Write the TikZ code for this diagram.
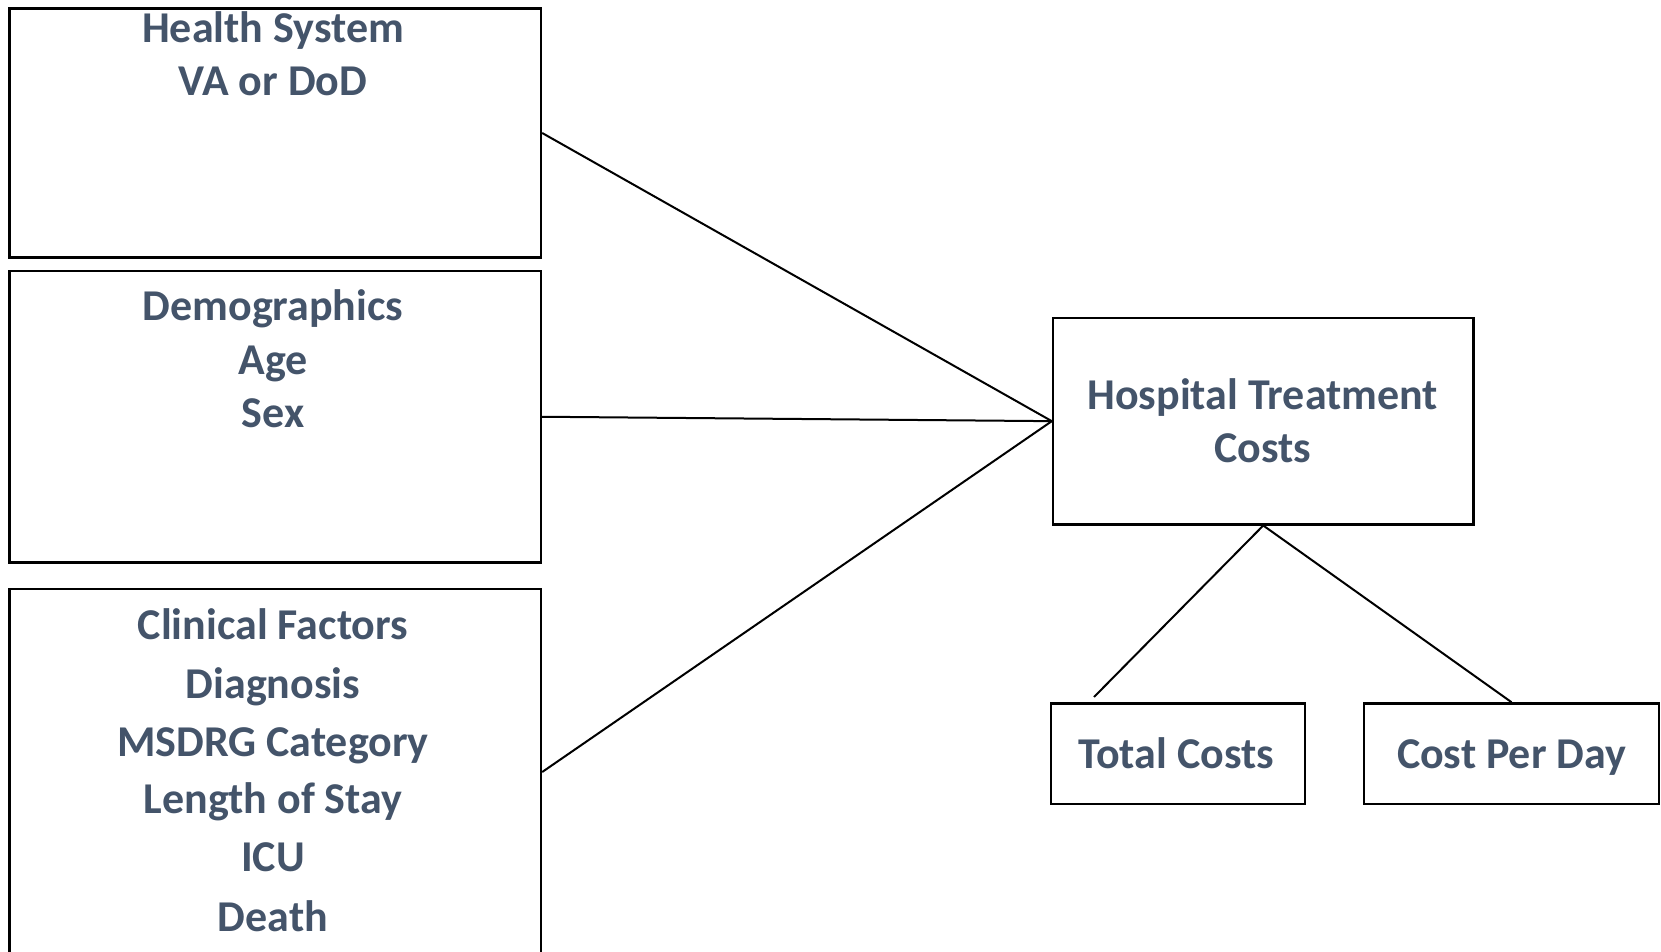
\documentclass[tikz,border=0pt]{standalone}
\usepackage{fontspec}
\setmainfont{Carlito}
\definecolor{txt}{HTML}{44546A}
\begin{document}
\begin{tikzpicture}[x=1pt,y=-1pt,
  box/.style={draw=black, line width=2.4pt, inner sep=0pt},
  lbl/.style={text=txt, font=\fontsize{44}{53}\selectfont\bfseries, inner sep=0pt, anchor=base},
  link/.style={draw=black, line width=2pt}]
\useasboundingbox (0,0) rectangle (1661,951);
\clip (0,0) rectangle (1661,951);
% boxes
\node[box, minimum width=531.5pt, minimum height=249pt] (hs) at (275.25,133) {};
\node[box, minimum width=531.5pt, minimum height=291.5pt] (dem) at (275.25,416.75) {};
\node[box, minimum width=531.5pt, minimum height=366pt] (cf) at (275.25,772) {};
\node[box, minimum width=420.5pt, minimum height=206.3pt] (htc) at (1263.25,421.15) {};
\node[box, minimum width=254pt, minimum height=100.6pt] (tc) at (1178,753.7) {};
\node[box, minimum width=295pt, minimum height=100.6pt] (cpd) at (1511.5,753.7) {};
% texts
\node[lbl] (t1) at (273,42.5) {Health System};
\node[lbl] (t2) at (273,95.5) {VA or DoD};
\node[lbl] (t3) at (273,320) {Demographics};
\node[lbl] (t4) at (273,374) {Age};
\node[lbl] (t5) at (273,427) {Sex};
\node[lbl] (t6) at (273,639) {Clinical Factors};
\node[lbl] (t7) at (273,698) {Diagnosis};
\node[lbl] (t8) at (273,756.5) {MSDRG Category};
\node[lbl] (t9) at (273,813.7) {Length of Stay};
\node[lbl] (t10) at (273,871) {ICU};
\node[lbl] (t11) at (273,931) {Death};
\node[lbl] (t12) at (1262.7,409) {Hospital Treatment};
\node[lbl] (t13) at (1262.7,462) {Costs};
\node[lbl] (t14) at (1176,768) {Total Costs};
\node[lbl] (t15) at (1511.6,768) {Cost Per Day};
% connectors
\coordinate (tcend) at (1094,697);
\draw[link] (hs.east) -- (htc.west);
\draw[link] (dem.east) -- (htc.west);
\draw[link] (cf.east) -- (htc.west);
\draw[link] (htc.south) -- (tcend);
\draw[link] (htc.south) -- (cpd.north);
\end{tikzpicture}
\end{document}
